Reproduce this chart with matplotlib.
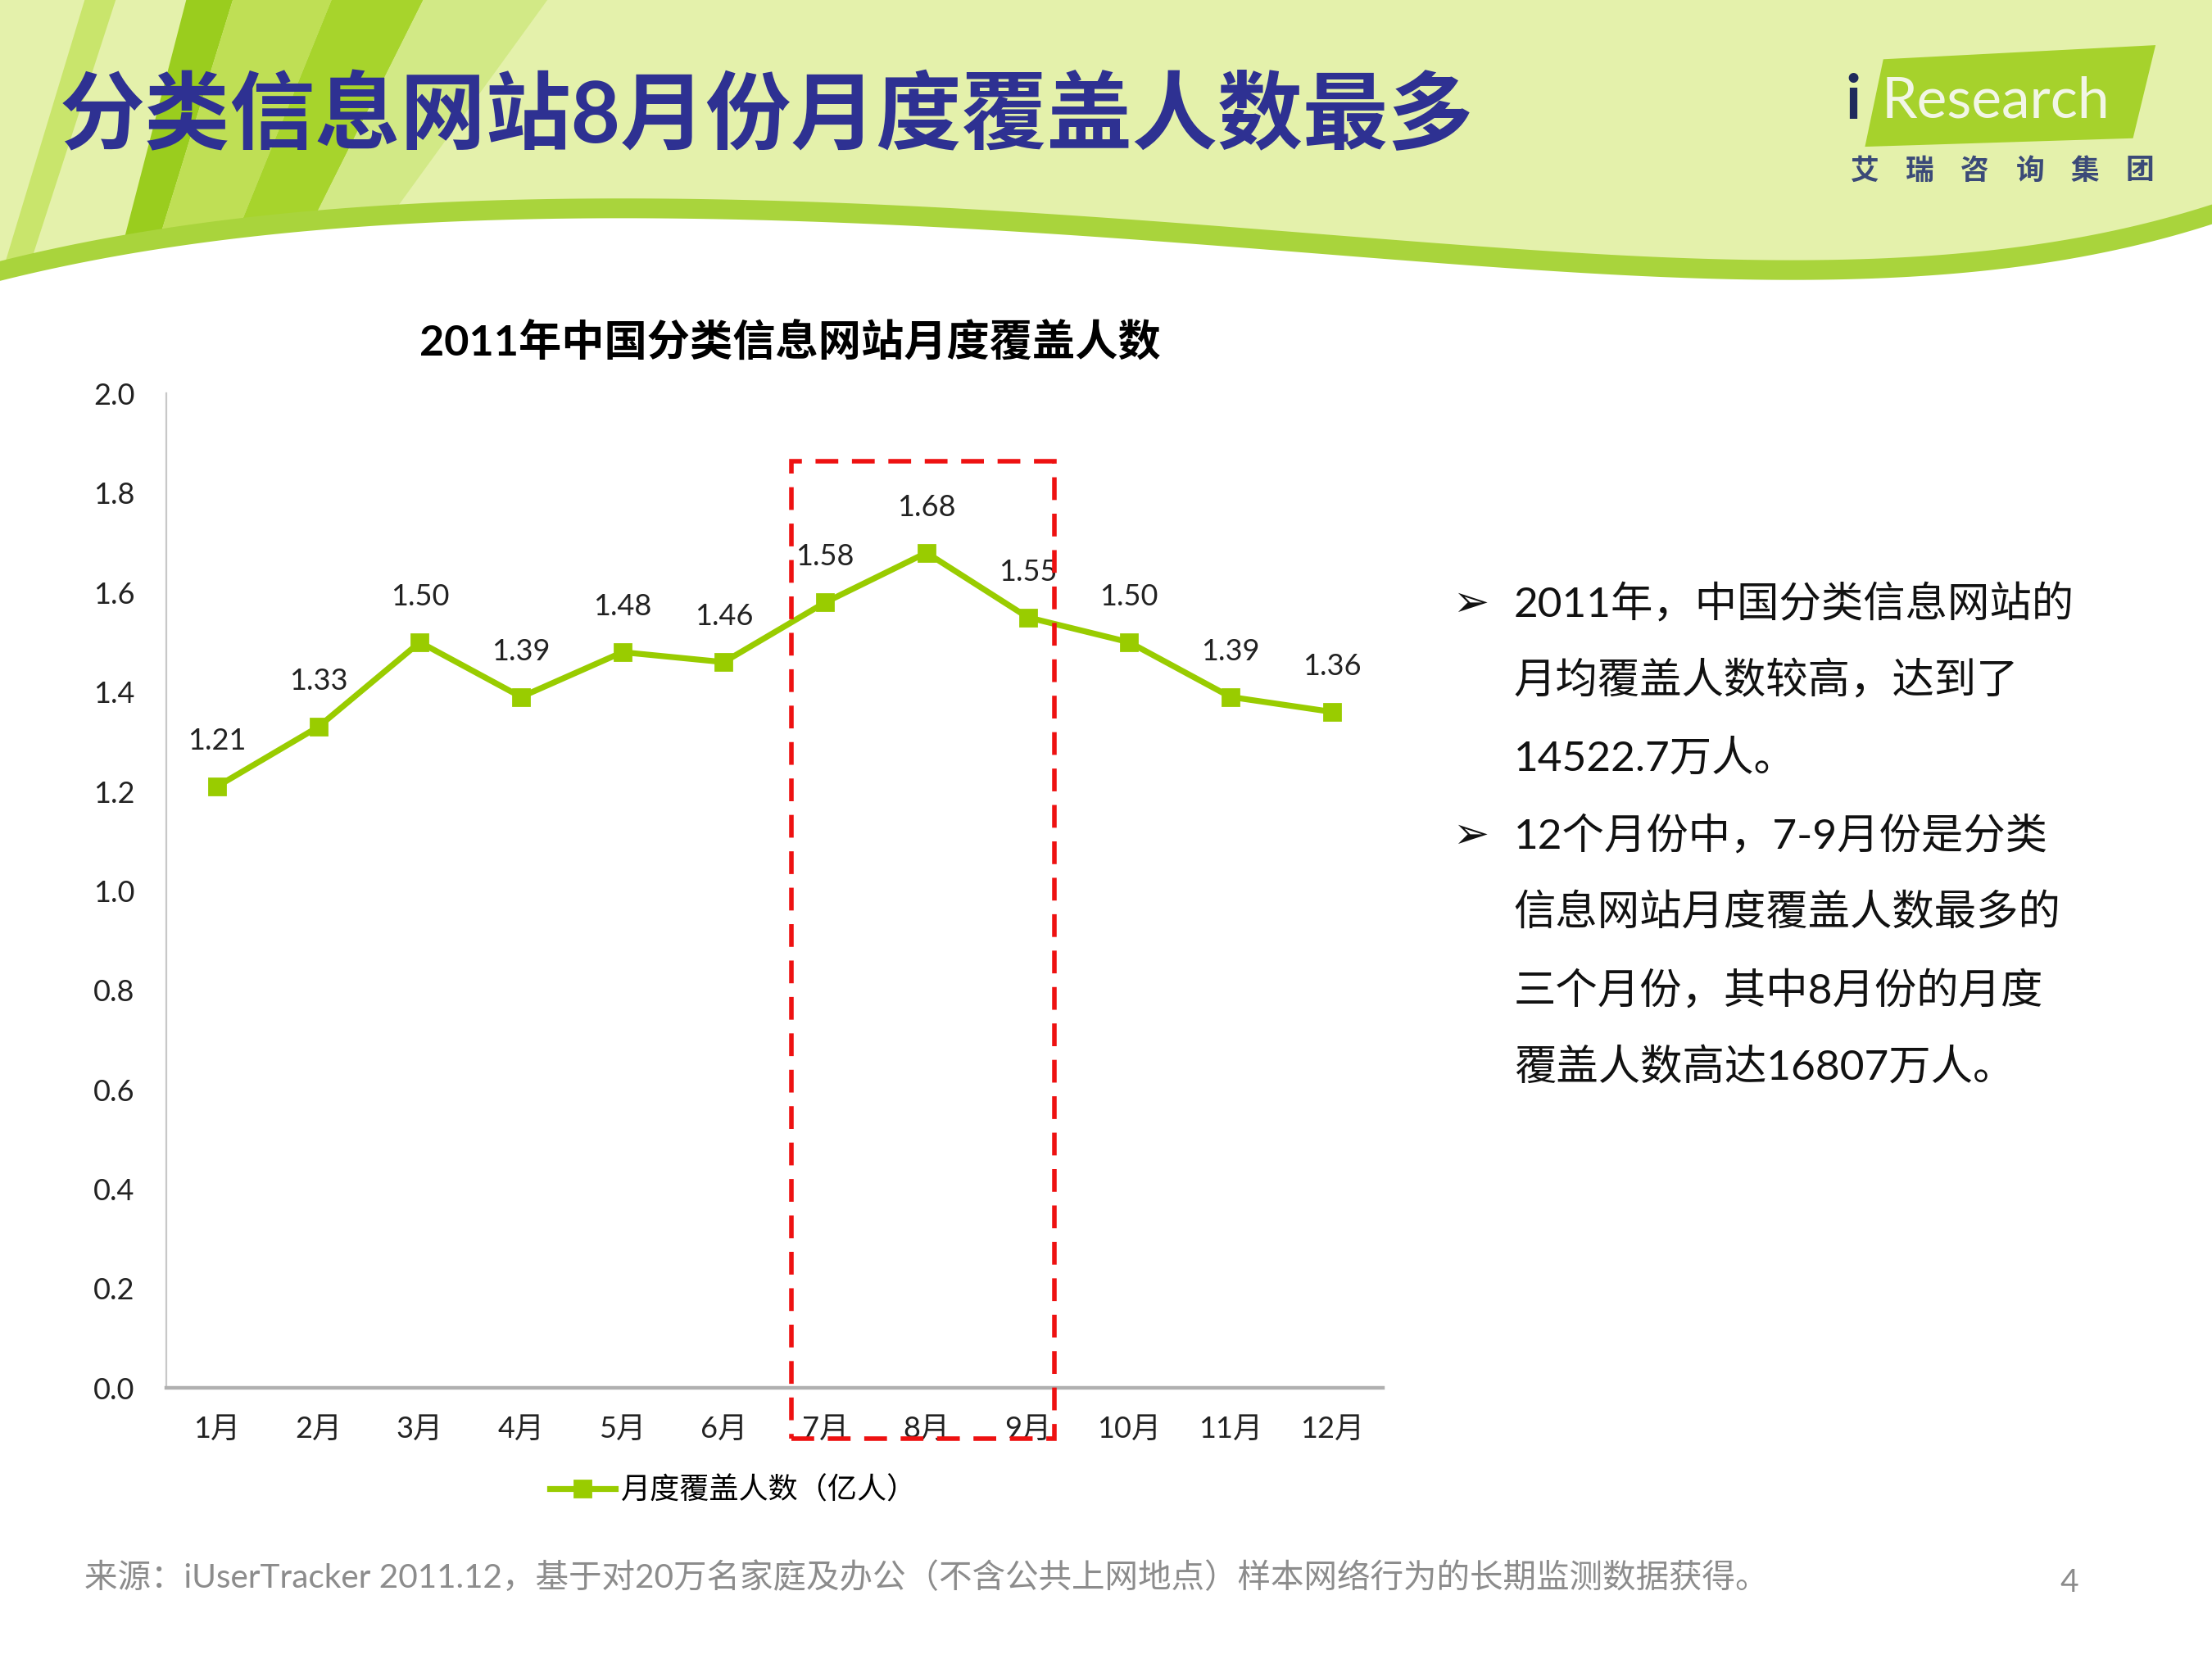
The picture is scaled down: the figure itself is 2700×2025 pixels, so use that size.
import numpy as np
import matplotlib
matplotlib.use('Agg')
import matplotlib.pyplot as plt
from matplotlib.patches import Polygon, Rectangle
from matplotlib.lines import Line2D

plt.rcParams['font.family'] = ['Lato', 'Noto Sans CJK SC', 'DejaVu Sans']

months = ['1月', '2月', '3月', '4月', '5月', '6月', '7月', '8月', '9月', '10月', '11月', '12月']
reach = [1.21, 1.33, 1.50, 1.39, 1.48, 1.46, 1.58, 1.68, 1.55, 1.50, 1.39, 1.36]
series_name = '月度覆盖人数（亿人）'
chart_title = '2011年中国分类信息网站月度覆盖人数'
page_title = '分类信息网站8月份月度覆盖人数最多'
logo_cn = ['艾', '瑞', '咨', '询', '集', '团']
notes = [
    ('➢', '2011年，中国分类信息网站的'),
    ('', '月均覆盖人数较高，达到了'),
    ('', '14522.7万人。'),
    ('➢', '12个月份中，7-9月份是分类'),
    ('', '信息网站月度覆盖人数最多的'),
    ('', '三个月份，其中8月份的月度'),
    ('', '覆盖人数高达16807万人。'),
]
source = '来源：iUserTracker 2011.12，基于对20万名家庭及办公（不含公共上网地点）样本网络行为的长期监测数据获得。'

W, H = 1568, 1176
GREEN = '#99cc00'

fig = plt.figure(figsize=(13.5, 10.125), dpi=200)

# slide background in pixel coords of the reference
bg = fig.add_axes([0, 0, 1, 1], zorder=0)
bg.set_xlim(0, W)
bg.set_ylim(H, 0)
bg.axis('off')
bg.add_patch(Rectangle((0, 0), W, 260, color='#e4f1ab', zorder=0))

stripes = [
    ([(60, 0), (82, 0), (22, 185), (4, 185)], '#c9e56c'),
    ([(132, 0), (165, 0), (108, 185), (84, 185)], '#9acd1e'),
    ([(165, 0), (235, 0), (162, 180), (108, 185)], '#bfdf55'),
    ([(235, 0), (300, 0), (215, 170), (162, 180)], '#a7d42c'),
    ([(300, 0), (388, 0), (272, 160), (215, 170)], '#d2e986'),
]
for pts, c in stripes:
    bg.add_patch(Polygon(pts, closed=True, color=c, zorder=1, lw=0))

cx = np.array([0, 200, 400, 700, 1000, 1250, 1450, 1568])
cy = np.array([197, 164, 152, 162, 182, 197, 184, 157])
xs = np.linspace(0, W, 300)
ys = np.polyval(np.polyfit(cx, cy, 5), xs)
band = np.concatenate([np.column_stack([xs, ys - 12]), np.column_stack([xs[::-1], ys[::-1] + 4])])
bg.add_patch(Polygon(band, closed=True, color='#a9d43c', zorder=2, lw=0))
white = np.concatenate([np.column_stack([xs, ys + 2]), [[W, H], [0, H]]])
bg.add_patch(Polygon(white, closed=True, color='white', zorder=3, lw=0))

# page title
bg.text(42, 82, page_title, fontsize=37.5, fontweight='bold', color='#2e3192',
        va='center', ha='left', zorder=5)

# logo
bg.add_patch(Polygon([(1335, 42), (1528, 32), (1512, 98), (1322, 104)], closed=True,
                     color='#a6d22c', zorder=4, lw=0))
bg.text(1308, 72, 'i', fontsize=27, fontweight='bold', color='#1f2a5c', va='center', zorder=5)
bg.text(1334, 72, 'Research', fontsize=25, color='#f2f6e6', va='center', zorder=5)
for k, ch in enumerate(logo_cn):
    bg.text(1322 + k * 39, 121, ch, fontsize=12.5, fontweight='bold', color='#3b4a78',
            ha='center', va='center', zorder=5)

# chart
ax = fig.add_axes([118 / W, 1 - 984 / H, (980 - 118) / W, (984 - 279) / H], zorder=2)
ax.patch.set_alpha(0)
x = np.arange(len(months))
ax.plot(x, reach, color=GREEN, lw=2.6, marker='s', ms=7, label=series_name, zorder=3)
for i, v in zip(x, reach):
    ax.annotate(f'{v:.2f}', (i, v), xytext=(0, 20), textcoords='offset points',
                ha='center', va='center', fontsize=13, color='#222222')
ax.set_xlim(-0.5, 11.5)
ax.set_ylim(0, 2.0)
ax.set_yticks(np.arange(0, 2.01, 0.2))
ax.set_yticklabels([f'{t:.1f}' for t in np.arange(0, 2.01, 0.2)])
ax.set_xticks(x)
ax.set_xticklabels(months)
ax.tick_params(length=0, labelsize=13, colors='#222222')
ax.tick_params(axis='y', pad=14)
ax.tick_params(axis='x', pad=12)
for s in ['top', 'right']:
    ax.spines[s].set_visible(False)
ax.spines['left'].set_color('#c8c8c8')
ax.spines['left'].set_linewidth(0.8)
ax.spines['bottom'].set_color('#b0b0b0')
ax.spines['bottom'].set_linewidth(1.6)

ax.add_patch(Rectangle((5.67, -0.102), 2.59, 1.966, fill=False, ec='#ee1111', lw=2,
                       ls=(0, (5, 3)), clip_on=False, zorder=4))

ax.legend(handles=[Line2D([0], [0], color=GREEN, lw=2.6, marker='s', ms=7)],
          labels=[series_name], loc='center', bbox_to_anchor=(520 / W, 1 - 1056 / H),
          bbox_transform=fig.transFigure, frameon=False, fontsize=13, handlelength=2.2,
          handletextpad=0.2)

fig.text(560 / W, 1 - 243 / H, chart_title, fontsize=18.8, fontweight='bold',
         ha='center', va='center', color='black')

# notes at right
for k, (bullet, line) in enumerate(notes):
    yy = 1 - (428 + k * 54.8) / H
    if bullet:
        fig.text(1030 / W, yy, bullet, fontsize=19, family=['DejaVu Sans'], va='center', color='#111111')
    fig.text(1073 / W, yy, line, fontsize=18.5, va='center', color='#111111')

fig.text(60 / W, 1 - 1118 / H, source, fontsize=14.6, color='#8c8c8c', va='center')
fig.text(1467 / W, 1 - 1122 / H, '4', fontsize=14, color='#8c8c8c', va='center', ha='center')

fig.savefig('out.png', dpi=200)
